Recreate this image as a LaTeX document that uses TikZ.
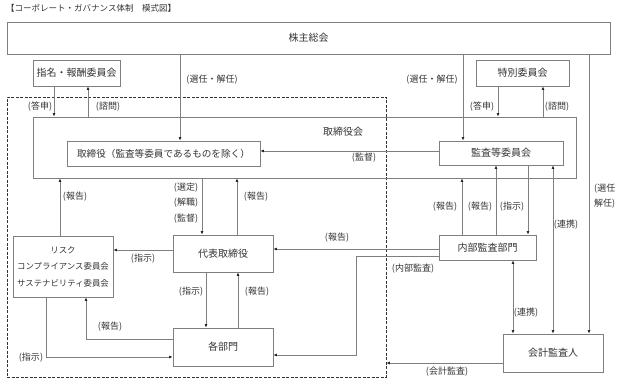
\documentclass[tikz,border=0pt]{standalone}
\usepackage{fontspec}
\setmainfont{Noto Sans CJK JP}
\usetikzlibrary{arrows.meta}
\definecolor{linegray}{HTML}{7F7F7F}
\definecolor{textgray}{HTML}{333333}

\begin{document}
\begin{tikzpicture}[x=1pt,y=-1pt,
  box/.style={draw=linegray, line width=0.8pt, inner sep=0pt, text=textgray, font=\fontsize{10}{12}\selectfont},
  lab/.style={inner sep=0pt, text=textgray, font=\fontsize{9}{15.5}\selectfont},
  arr/.style={draw=linegray, line width=0.8pt, -{Latex[length=3.5pt,width=3pt,color=black!85]}},
  darr/.style={arr, {Latex[length=3.5pt,width=3pt,color=black!85]}-{Latex[length=3.5pt,width=3pt,color=black!85]}}]
  \useasboundingbox (0,0) rectangle (623,385);
  \node[lab, anchor=west, font=\fontsize{8.5}{10}\selectfont] (title) at (6,8) {【コーポレート・ガバナンス体制　模式図】};
  \node[draw=black!80, dash pattern=on 3pt off 1.5pt, line width=0.8pt, minimum width=379pt, minimum height=280pt, inner sep=0pt] (frame) at (196.5,237) {};
  \node[box, minimum width=603pt, minimum height=32pt] (soukai) at (308.5,38) {株主総会};
  \node[box, minimum width=87pt, minimum height=26pt] (shimei) at (76.5,73) {指名・報酬委員会};
  \node[box, minimum width=93pt, minimum height=26pt] (tokubetsu) at (522.5,73) {特別委員会};
  \node[box, minimum width=543pt, minimum height=61pt] (torikai) at (304.5,147.5) {};
  \node[lab, font=\fontsize{10}{12}\selectfont] (torikaiName) at (343,132) {取締役会};
  \node[box, minimum width=193pt, minimum height=25pt, font=\fontsize{9.6}{12}\selectfont] (torishimari) at (163.5,153.5) {取締役（監査等委員であるものを除く）};
  \node[box, minimum width=124pt, minimum height=24pt] (kansa) at (501,153) {監査等委員会};
  \node[box, minimum width=100pt, minimum height=61pt, align=center, font=\fontsize{8.4}{16.5}\selectfont] (risk) at (63,266.5) {リスク\\コンプライアンス委員会\\サステナビリティ委員会};
  \node[box, minimum width=100pt, minimum height=37pt] (daihyo) at (223,253.5) {代表取締役};
  \node[box, minimum width=100pt, minimum height=38pt] (bumon) at (223,347) {各部門};
  \node[box, minimum width=97pt, minimum height=25pt] (naibu) at (487.5,247.5) {内部監査部門};
  \node[box, minimum width=100pt, minimum height=38pt] (kaikei) at (553,353) {会計監査人};

  \draw[arr] (soukai.south -| 180,0) -- (torishimari.north -| 180,0);
  \draw[arr] (soukai.south -| 463,0) -- (kansa.north -| 463,0);
  \draw[arr] (soukai.south -| 589,0) -- (kaikei.north -| 589,0);
  \draw[arr] (shimei.south -| 54,0) -- (torikai.north -| 54,0);
  \draw[arr] (torikai.north -| 88,0) -- (shimei.south -| 88,0);
  \draw[arr] (tokubetsu.south -| 498,0) -- (torikai.north -| 498,0);
  \draw[arr] (torikai.north -| 543,0) -- (tokubetsu.south -| 543,0);
  \draw[arr] (kansa.west |- 0,151) -- (torishimari.east |- 0,151);
  \draw[arr] (risk.north -| 60,0) -- (torikai.south -| 60,0);
  \draw[arr] (torikai.south -| 202,0) -- (daihyo.north -| 202,0);
  \draw[arr] (daihyo.north -| 237,0) -- (torikai.south -| 237,0);
  \draw[arr] (daihyo.west |- 0,250) -- (risk.east |- 0,250);
  \draw[arr] (daihyo.south -| 206,0) -- (bumon.north -| 206,0);
  \draw[arr] (bumon.north -| 238,0) -- (daihyo.south -| 238,0);
  \draw[arr] (bumon.west |- 0,339) -| (risk.south -| 86,0);
  \draw[arr] (risk.south -| 46,0) |- (bumon.west |- 0,357);
  \draw[arr] (naibu.north -| 462,0) -- (torikai.south -| 462,0);
  \draw[arr] (naibu.north -| 496,0) -- (kansa.south -| 496,0);
  \draw[arr] (kansa.south -| 528,0) -- (naibu.north -| 528,0);
  \draw[darr] (kaikei.north -| 553,0) -- (kansa.south -| 553,0);
  \draw[arr] (naibu.west |- 0,249) -- (daihyo.east |- 0,249);
  \draw[arr] (naibu.west |- 0,256) -- (356,256) -- (356,355) -- (bumon.east |- 0,355);
  \draw[darr] (naibu.south -| 513,0) -- (kaikei.north -| 513,0);
  \draw[arr] (kaikei.west |- 0,363) -- (frame.east |- 0,363);

  \node[lab] (lSennin1) at (212,80) {(選任・解任)};
  \node[lab] (lSennin2) at (432,80) {(選任・解任)};
  \node[lab, anchor=west, align=left] (lSennin3) at (594,196) {(選任\\解任)};
  \node[lab] (lToshin1) at (40,107) {(答申)};
  \node[lab] (lShimon1) at (108,107) {(諮問)};
  \node[lab] (lToshin2) at (482,107) {(答申)};
  \node[lab] (lShimon2) at (557,107) {(諮問)};
  \node[lab] (lKantoku1) at (364,158) {(監督)};
  \node[lab] (lHoukoku1) at (75,197) {(報告)};
  \node[lab, align=center] (lSentei) at (186,203) {(選定)\\(解職)\\(監督)};
  \node[lab] (lHoukoku2) at (256,197) {(報告)};
  \node[lab] (lShiji1) at (143,259) {(指示)};
  \node[lab] (lShiji2) at (191,292) {(指示)};
  \node[lab] (lHoukoku3) at (257,292) {(報告)};
  \node[lab] (lHoukoku4) at (110,327) {(報告)};
  \node[lab] (lShiji3) at (31,358) {(指示)};
  \node[lab] (lHoukoku5) at (445,207) {(報告)};
  \node[lab] (lHoukoku6) at (480,207) {(報告)};
  \node[lab] (lShiji4) at (512,207) {(指示)};
  \node[lab] (lRenkei1) at (566,225) {(連携)};
  \node[lab] (lHoukoku7) at (337,238) {(報告)};
  \node[lab] (lNaibu) at (413,269) {(内部監査)};
  \node[lab] (lRenkei2) at (526,313) {(連携)};
  \node[lab] (lKaikei) at (447,372) {(会計監査)};
\end{tikzpicture}
\end{document}
